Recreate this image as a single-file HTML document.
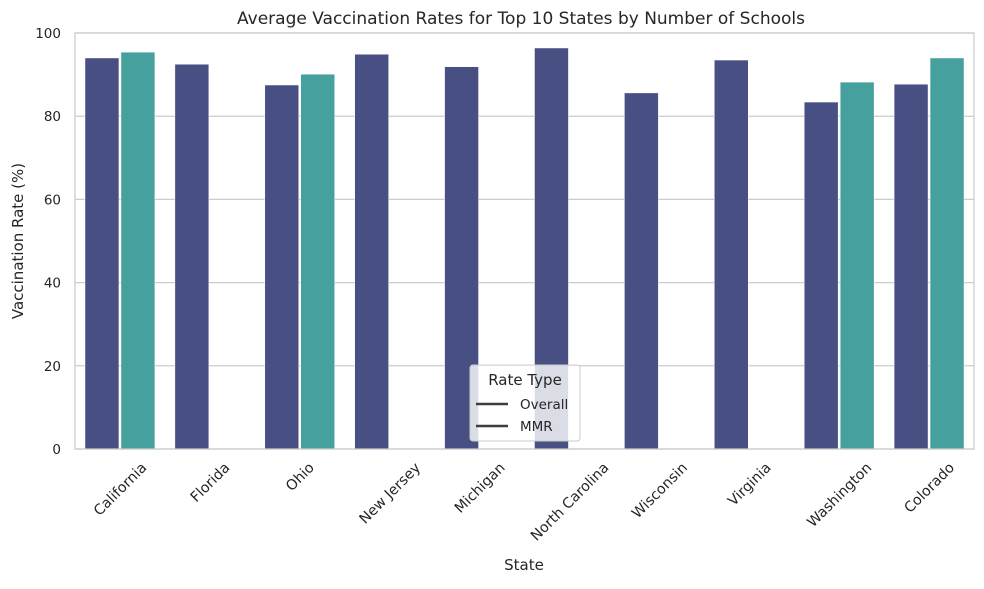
<!DOCTYPE html>
<html><head><meta charset="utf-8"><style>
body{margin:0;background:#fff;font-family:"Liberation Sans","DejaVu Sans",sans-serif;}
</style></head><body>
<svg id="chart" width="984" height="584" xmlns="http://www.w3.org/2000/svg" font-family="DejaVu Sans, Liberation Sans, sans-serif">
<rect width="984" height="584" fill="#fff"/>
<g id="grid"></g>
<g id="bars"></g>
<rect x="75" y="33" width="899" height="416" fill="none" stroke="#cccccc" stroke-width="1.25"/>
<g id="axes"></g>
<text x="521" y="24" text-anchor="middle" font-size="17" fill="#262626">Average Vaccination Rates for Top 10 States by Number of Schools</text>
<text x="524" y="570" text-anchor="middle" font-size="15" fill="#262626">State</text>
<text transform="translate(23,241) rotate(-90)" text-anchor="middle" font-size="15" fill="#262626">Vaccination Rate (%)</text>
<g>
<rect x="470" y="365" width="110" height="76" rx="3" fill="#ffffff" fill-opacity="0.8" stroke="#cccccc"/>
<text x="525" y="385" text-anchor="middle" font-size="15" fill="#262626">Rate Type</text>
<line x1="476" y1="404" x2="508" y2="404" stroke="#3d3d3d" stroke-width="2.5"/>
<text x="520" y="409" font-size="13.5" fill="#262626">Overall</text>
<line x1="476" y1="426" x2="508" y2="426" stroke="#3d3d3d" stroke-width="2.5"/>
<text x="520" y="431" font-size="13.5" fill="#262626">MMR</text>
</g>
</svg>
<script>
const categories=["California","Florida","Ohio","New Jersey","Michigan","North Carolina","Wisconsin","Virginia","Washington","Colorado"];
const overallValues=[94.0,92.5,87.5,94.9,91.9,96.4,85.6,93.5,83.4,87.7];
const mmrValues=[95.4,null,90.1,null,null,null,null,null,88.2,94.0];
const yTicks=[0,20,40,60,80,100];
const NS="http://www.w3.org/2000/svg";
const L=75,R=974,T=33,B=449;
const band=(R-L)/categories.length;
const y=v=>B-(v/100)*(B-T);
const xc=i=>L+band*(i+0.5);
function mk(tag,attrs,parent){const e=document.createElementNS(NS,tag);for(const k in attrs)e.setAttribute(k,attrs[k]);parent.appendChild(e);return e;}
const grid=document.getElementById('grid'),bars=document.getElementById('bars'),axes=document.getElementById('axes');
yTicks.forEach(t=>{
  const l=mk('line',{x1:L,x2:R,y1:y(t),y2:y(t),stroke:'#cccccc','stroke-width':1.25},grid);
  
  
  const tx=mk('text',{x:L-14,y:y(t)+5,'text-anchor':'end','font-size':13.5,fill:'#262626'},axes);
  tx.textContent=t;
  
  
});
const bw=band*0.4;
categories.forEach((c,i)=>{
  const x0=xc(i)-band*0.4;
  [[overallValues[i],'#484f83','bar-overall'],[mmrValues[i],'#46a09d','bar-mmr']].forEach((s,j)=>{
    if(s[0]==null)return;
    const r=mk('rect',{x:x0+j*bw+1,y:y(s[0]),width:bw-2,height:B-y(s[0]),fill:s[1],stroke:'#ffffff','stroke-width':0.5},bars);
    
    
  });
  const tx=mk('text',{'text-anchor':'middle','font-size':14.3,fill:'#262626'},axes);
  tx.textContent=c;
  
  
  const w=tx.getComputedTextLength();
  const h=(w+14)*0.7071;
  const cy=B+11+h/2;
  tx.setAttribute('transform',`translate(${xc(i)},${cy}) rotate(-45)`);
  tx.setAttribute('dy','5');
});
</script>
</body></html>
